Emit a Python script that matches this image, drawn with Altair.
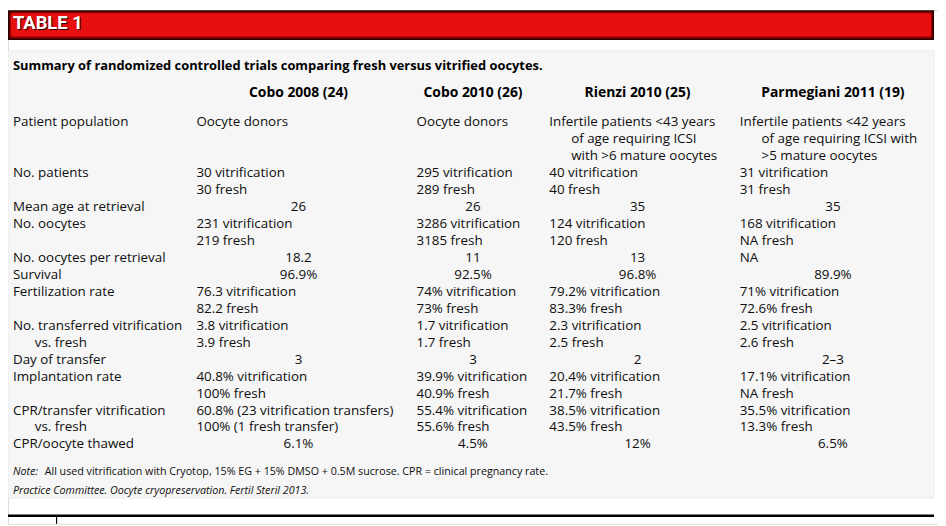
import altair as alt
import pandas as pd

# ---------------- data ----------------
table_label = "TABLE 1"
table_title = "Summary of randomized controlled trials comparing fresh versus vitrified oocytes."
studies = ["Cobo 2008 (24)", "Cobo 2010 (26)", "Rienzi 2010 (25)", "Parmegiani 2011 (19)"]

row_labels = [
    ["Patient population"],
    ["No. patients"],
    ["Mean age at retrieval"],
    ["No. oocytes"],
    ["No. oocytes per retrieval"],
    ["Survival"],
    ["Fertilization rate"],
    ["No. transferred vitrification", "vs. fresh"],
    ["Day of transfer"],
    ["Implantation rate"],
    ["CPR/transfer vitrification", "vs. fresh"],
    ["CPR/oocyte thawed"],
]
cobo_2008 = [
    ["Oocyte donors"],
    ["30 vitrification", "30 fresh"],
    ["26"],
    ["231 vitrification", "219 fresh"],
    ["18.2"],
    ["96.9%"],
    ["76.3 vitrification", "82.2 fresh"],
    ["3.8 vitrification", "3.9 fresh"],
    ["3"],
    ["40.8% vitrification", "100% fresh"],
    ["60.8% (23 vitrification transfers)", "100% (1 fresh transfer)"],
    ["6.1%"],
]
cobo_2010 = [
    ["Oocyte donors"],
    ["295 vitrification", "289 fresh"],
    ["26"],
    ["3286 vitrification", "3185 fresh"],
    ["11"],
    ["92.5%"],
    ["74% vitrification", "73% fresh"],
    ["1.7 vitrification", "1.7 fresh"],
    ["3"],
    ["39.9% vitrification", "40.9% fresh"],
    ["55.4% vitrification", "55.6% fresh"],
    ["4.5%"],
]
rienzi_2010 = [
    ["Infertile patients <43 years", "of age requiring ICSI", "with >6 mature oocytes"],
    ["40 vitrification", "40 fresh"],
    ["35"],
    ["124 vitrification", "120 fresh"],
    ["13"],
    ["96.8%"],
    ["79.2% vitrification", "83.3% fresh"],
    ["2.3 vitrification", "2.5 fresh"],
    ["2"],
    ["20.4% vitrification", "21.7% fresh"],
    ["38.5% vitrification", "43.5% fresh"],
    ["12%"],
]
parmegiani_2011 = [
    ["Infertile patients <42 years", "of age requiring ICSI with", ">5 mature oocytes"],
    ["31 vitrification", "31 fresh"],
    ["35"],
    ["168 vitrification", "NA fresh"],
    ["NA"],
    ["89.9%"],
    ["71% vitrification", "72.6% fresh"],
    ["2.5 vitrification", "2.6 fresh"],
    ["2\u20133"],
    ["17.1% vitrification", "NA fresh"],
    ["35.5% vitrification", "13.3% fresh"],
    ["6.5%"],
]
note_lead = "Note:"
note_text = "All used vitrification with Cryotop, 15% EG + 15% DMSO + 0.5M sucrose. CPR = clinical pregnancy rate."
source_text = "Practice Committee. Oocyte cryopreservation. Fertil Steril 2013."

# ---------------- layout ----------------
FONT = "Open Sans"
INK = "#0e0e0e"
W, H = 938, 518
X_LEFT = [5, 190, 412, 546, 738]
X_CENTER = [293, 469, 635, 832]
CENTER_ROWS = {2, 4, 5, 8, 11}
BODY_SIZE = 13.5

columns = [row_labels, cobo_2008, cobo_2010, rienzi_2010, parmegiani_2011]
records = []
line0 = 0
for r in range(len(row_labels)):
    n = max(len(col[r]) for col in columns)
    for c, col in enumerate(columns):
        for i, t in enumerate(col[r]):
            if c > 0 and r in CENTER_ROWS and t != "NA":
                kind = "center"
            elif i > 0 and (c == 0 or r == 0):
                kind = "indent"
            else:
                kind = "left"
            records.append({"col": c, "line": line0 + i, "text": t, "kind": kind})
    line0 += n
body = pd.DataFrame(records)
n_lines = line0
head = pd.DataFrame({"col": [1, 2, 3, 4], "text": studies})

y_body = alt.Y("line:Q", axis=None,
               scale=alt.Scale(domain=[0, n_lines - 1], range=[113, 438], nice=False, zero=False))
x_left = alt.X("col:Q", axis=None, scale=alt.Scale(domain=[0, 1, 2, 3, 4], range=X_LEFT))
x_center = alt.X("col:Q", axis=None, scale=alt.Scale(domain=[1, 2, 3, 4], range=X_CENTER))


def one():
    return alt.Chart(alt.Data(values=[{"k": 0}]))


def box(x1, x2, y1, y2, fill, **kw):
    return one().mark_rect(fill=fill, **kw).encode(
        x=alt.value(x1), x2=alt.value(x2), y=alt.value(y1), y2=alt.value(y2))


def label(txt, x, y, **kw):
    return one().mark_text(align="left", baseline="middle", text=txt, **kw).encode(
        x=alt.value(x), y=alt.value(y))


layers = [
    # panel
    box(0, 934, 41, 492, "#f6f6f6", stroke="#ebebeb", strokeWidth=1),
    # banner
    box(0, 934, 0, 30, "#2a0000"),
    box(1.5, 932.5, 1.5, 28.5, "#8a0000"),
    box(3, 931, 3, 26.5, "#e80f0f", cornerRadius=2),
    label(table_label, 6, 14, font="Roboto", fontSize=18.5, fontWeight="bold", color="#300000"),
    label(table_label, 5, 13, font="Roboto", fontSize=18.5, fontWeight="bold", color="white"),
    # title
    label(table_title, 5, 56, font=FONT, fontSize=13, fontWeight="bold", color="#000"),
    # header
    alt.Chart(head).mark_text(align="center", baseline="middle", font=FONT, fontSize=14,
                              fontWeight="bold", color="#000").encode(
        x=x_center, y=alt.value(84), text="text:N"),
    # body
    alt.Chart(body).transform_filter("datum.kind == 'left'").mark_text(
        align="left", baseline="middle", font=FONT, fontSize=BODY_SIZE, color=INK).encode(
        x=x_left, y=y_body, text="text:N"),
    alt.Chart(body).transform_filter("datum.kind == 'indent'").mark_text(
        align="left", baseline="middle", dx=22, font=FONT, fontSize=BODY_SIZE, color=INK).encode(
        x=x_left, y=y_body, text="text:N"),
    alt.Chart(body).transform_filter("datum.kind == 'center'").mark_text(
        align="center", baseline="middle", font=FONT, fontSize=BODY_SIZE, color=INK).encode(
        x=x_center, y=y_body, text="text:N"),
    # notes
    label(note_lead, 5, 466, font=FONT, fontSize=10.8, fontStyle="italic", color=INK),
    label(note_text, 37, 466, font=FONT, fontSize=10.8, color=INK),
    label(source_text, 5, 485, font=FONT, fontSize=10.8, fontStyle="italic", color=INK),
    # bottom rules
    one().mark_rule(color="black", strokeWidth=2.5).encode(
        x=alt.value(0), x2=alt.value(934), y=alt.value(510)),
    one().mark_rule(color="black", strokeWidth=1.2).encode(
        x=alt.value(49), y=alt.value(510), y2=alt.value(518)),
]

chart = alt.layer(*layers).resolve_scale(x="independent", y="independent").properties(
    width=W, height=H, padding=0, autosize=alt.AutoSizeParams(type="none")
).configure_view(stroke=None).configure(background="white")

chart.save("out.html", embed_options={"renderer": "svg", "actions": False})
